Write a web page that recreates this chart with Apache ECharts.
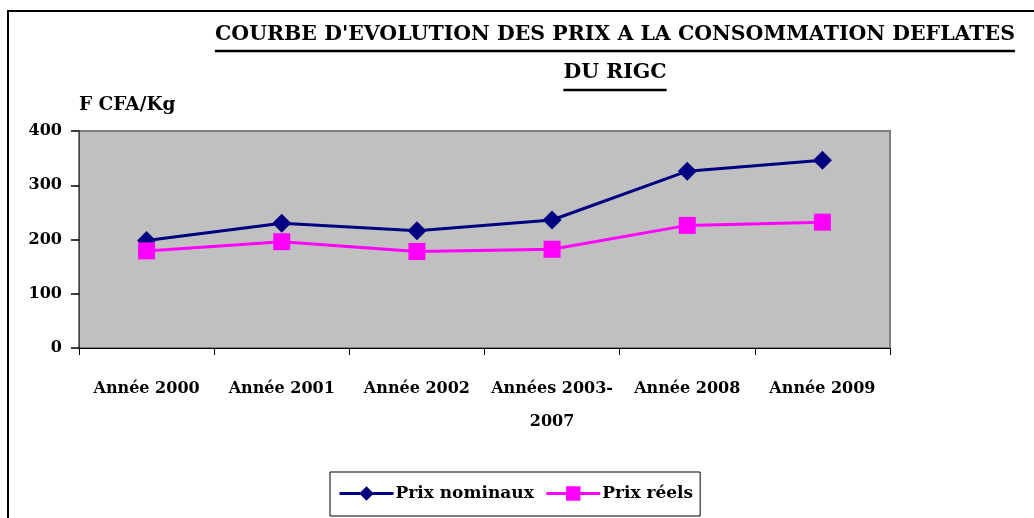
<!DOCTYPE html>
<html>
<head>
<meta charset="utf-8">
<script src="https://cdn.jsdelivr.net/npm/echarts@6/dist/echarts.min.js"></script>
<style>
  html, body { margin: 0; padding: 0; background: #fff; }
  #chart { width: 1034px; height: 518px; }
</style>
</head>
<body>
<div id="chart"></div>
<script>
  /** 数据 */
  var categories = ['Année 2000', 'Année 2001', 'Année 2002', 'Années 2003-2007', 'Année 2008', 'Année 2009']
  var prixNominaux = [198, 230, 216, 236, 326, 346]
  var prixReels = [179, 196, 178, 182, 226, 232]
  var yTicks = [0, 100, 200, 300, 400]

  var FONT = 'DejaVu Serif'
  var titleLine1 = "COURBE D'EVOLUTION DES PRIX A LA CONSOMMATION DEFLATES"
  var titleLine2 = 'DU RIGC'

  /** 计算标题下划线长度 */
  function textWidth(str, size) {
    var ctx = document.createElement('canvas').getContext('2d')
    ctx.font = 'bold ' + size + 'px "' + FONT + '"'
    return ctx.measureText(str).width
  }
  var titleSize = 20.5
  var titleX = 615
  var w1 = textWidth(titleLine1, titleSize)
  var w2 = textWidth(titleLine2, titleSize)

  var chart = echarts.init(document.getElementById('chart'))
  chart.setOption({
    animation: false,
    backgroundColor: '#fff',
    textStyle: { fontFamily: FONT, fontWeight: 'bold', color: '#000' },
    graphic: [
      { type: 'rect', shape: { x: 8, y: 11, width: 1200, height: 700 }, style: { fill: 'none', stroke: '#000', lineWidth: 2 } },
      { type: 'text', x: titleX, y: 35, style: { text: titleLine1, fontFamily: FONT, fontWeight: 'bold', fontSize: titleSize, fill: '#000', textAlign: 'center', textVerticalAlign: 'middle' } },
      { type: 'line', shape: { x1: titleX - w1 / 2, y1: 51, x2: titleX + w1 / 2, y2: 51 }, style: { stroke: '#000', lineWidth: 2.5 } },
      { type: 'text', x: titleX, y: 73, style: { text: titleLine2, fontFamily: FONT, fontWeight: 'bold', fontSize: titleSize, fill: '#000', textAlign: 'center', textVerticalAlign: 'middle' } },
      { type: 'line', shape: { x1: titleX - w2 / 2, y1: 90, x2: titleX + w2 / 2, y2: 90 }, style: { stroke: '#000', lineWidth: 2.5 } }
    ],
    grid: {
      left: 79, right: 144, top: 131, bottom: 170,
      show: true, backgroundColor: '#C0C0C0', borderColor: '#808080', borderWidth: 2
    },
    legend: {
      left: 330, top: 472,
      padding: [13, 7, 14, 8],
      itemGap: 11,
      itemWidth: 54, itemHeight: 18,
      borderColor: '#000', borderWidth: 1,
      lineStyle: { width: 3 },
      textStyle: { fontFamily: FONT, fontWeight: 'bold', fontSize: 17, color: '#000', padding: [0, 0, 0, -3] },
      data: ['Prix nominaux', 'Prix réels']
    },
    xAxis: {
      type: 'category',
      data: categories,
      boundaryGap: true,
      axisLine: { show: true, lineStyle: { color: '#000', width: 1 } },
      axisTick: { show: true, length: 7, interval: 0, lineStyle: { color: '#000', width: 1 } },
      axisLabel: {
        interval: 0, margin: 24, fontSize: 16, fontWeight: 'bold', color: '#000', lineHeight: 33,
        formatter: function(v) { return v.replace('-', '-\n') }
      }
    },
    yAxis: {
      type: 'value',
      min: yTicks[0], max: yTicks[yTicks.length - 1], interval: 100,
      name: 'F CFA/Kg',
      nameLocation: 'end',
      nameGap: 16,
      nameTextStyle: { fontSize: 18.5, fontWeight: 'bold', color: '#000', align: 'left' },
      axisLine: { show: true, lineStyle: { color: '#404040', width: 1 } },
      axisTick: { show: true, inside: false, length: 8, lineStyle: { color: '#000', width: 1.5, opacity: 1 } },
      splitLine: { show: false },
      axisLabel: { margin: 17, fontSize: 16, fontWeight: 'bold', color: '#000' }
    },
    series: [
      {
        name: 'Prix nominaux',
        type: 'line',
        data: prixNominaux,
        symbol: 'diamond',
        symbolSize: [19, 19],
        itemStyle: { color: '#000080' },
        lineStyle: { color: '#000080', width: 3 }
      },
      {
        name: 'Prix réels',
        type: 'line',
        data: prixReels,
        symbol: 'rect',
        symbolSize: 17,
        itemStyle: { color: '#FF00FF' },
        lineStyle: { color: '#FF00FF', width: 3 }
      }
    ]
  })
</script>
</body>
</html>
